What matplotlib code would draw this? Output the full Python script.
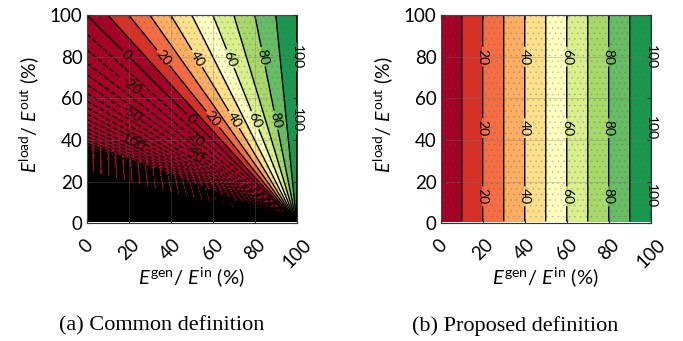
import numpy as np
import matplotlib
matplotlib.use('Agg')
import matplotlib.pyplot as plt
from matplotlib.colors import ListedColormap

# colour bands (10 classes of RdYlGn)
band_colors = ['#a50026', '#d73027', '#f46d43', '#fdae61', '#fee08b',
               '#ffffbf', '#d9ef8b', '#a6d96a', '#66bd63', '#1a9850']
ticks = [0, 20, 40, 60, 80, 100]
line_step = 10
lowest_level = -10000
dense_below = -150
black_below = -300
common_labels = [-100, -50, -20, 0, 20, 40, 60, 80, 100]
proposed_labels = [20, 40, 60, 80, 100]
captions = ['(a) Common definition', '(b) Proposed definition']

# where the contour labels sit (E_gen/E_in, E_load/E_out)
common_label_xy = [(19, 81), (35.7, 79), (52.4, 79), (68.3, 79), (84, 80), (100, 80),
                   (20.6, 65.6), (20.6, 52), (20.6, 38.4),
                   (50, 50.4), (59.5, 49.6), (69.8, 49.6), (80.2, 49.6), (90.2, 49.6),
                   (100, 49.6), (50, 40), (50.8, 32.8)]
proposed_label_xy = [(x, y) for y in (80, 45.7, 13) for x in proposed_labels]

plt.rcParams['font.family'] = ['Lato', 'DejaVu Sans']
plt.rcParams['mathtext.fontset'] = 'custom'
plt.rcParams['mathtext.rm'] = 'Lato'
plt.rcParams['mathtext.it'] = 'Lato:italic'
plt.rcParams['hatch.color'] = (0.35, 0.35, 0.35, 0.3)
plt.rcParams['hatch.linewidth'] = 0.4

# y grid denser near 0 where the common definition blows up
gen = np.linspace(0, 101, 405)
load = np.geomspace(1, 100, 1400)
X, Y = np.meshgrid(gen, load)
common = 100 * (X + Y - 100) / Y   # common definition
proposed = X.copy()                # proposed definition

cmap = ListedColormap(band_colors)
cmap.set_under(band_colors[0])
cmap.set_over(band_colors[-1])
fill_levels = np.arange(0, 101, line_step)

fig = plt.figure(figsize=(6.83, 3.41), dpi=100)
ax1 = fig.add_axes([0.127, 0.3446, 0.3075, 0.6114])
ax2 = fig.add_axes([0.6453, 0.3446, 0.3075, 0.6114])

for ax, Z, lines, lw, labs, spots, cap, cx in [
        (ax1, common, np.arange(lowest_level, 101, line_step), 1.0, common_labels, common_label_xy, captions[0], 0.237),
        (ax2, proposed, np.arange(10, 101, line_step), 1.0, proposed_labels, proposed_label_xy, captions[1], 0.755)]:
    ax.contourf(X, Y, Z, levels=fill_levels, cmap=cmap, extend='both', hatches=['...'])
    plain = [v for v in lines if v not in labs]
    dense = [v for v in plain if v < dense_below]
    sparse = [v for v in plain if v >= dense_below]
    if dense:
        # lines so close together they read as solid black
        ax.contourf(X, Y, Z, levels=[lowest_level, black_below], colors='k')
        ax.contour(X, Y, Z, levels=dense, colors='k', linewidths=lw, antialiased=False)
    ax.contour(X, Y, Z, levels=sparse, colors='k', linewidths=lw)
    cs = ax.contour(X, Y, Z, levels=labs, colors='k', linewidths=lw)
    texts = ax.clabel(cs, manual=spots, fmt='%d', fontsize=10, inline=True, inline_spacing=2)
    for t in texts:
        t.set_clip_on(False)
    ax.set_xlim(0, 100)
    ax.set_ylim(0, 100)
    ax.set_xticks(ticks)
    ax.set_yticks(ticks)
    ax.set_xticklabels([str(t) for t in ticks], rotation=45, ha='center')
    ax.tick_params(labelsize=13.5, direction='in', top=True, right=True, length=3,
                   color='#333333', pad=3)
    ax.tick_params(axis='x', pad=9)
    ax.grid(True, color='#777777', alpha=0.3, lw=0.8)
    ax.set_axisbelow(False)
    for s in ax.spines.values():
        s.set_color('#333333')
        s.set_linewidth(0.8)
    ax.set_xlabel(r'$E^{\mathrm{gen}}$/ $E^{\mathrm{in}}$ (%)', fontsize=14.5)
    ax.xaxis.set_label_coords(0.5, -0.2)
    ax.set_ylabel(r'$E^{\mathrm{load}}$/ $E^{\mathrm{out}}$ (%)', fontsize=14)
    ax.yaxis.set_label_coords(-0.22, 0.52)
    fig.text(cx, 0.044, cap, family='Liberation Serif',
             fontsize=16, ha='center', va='center')

fig.savefig('out.png', dpi=100)
